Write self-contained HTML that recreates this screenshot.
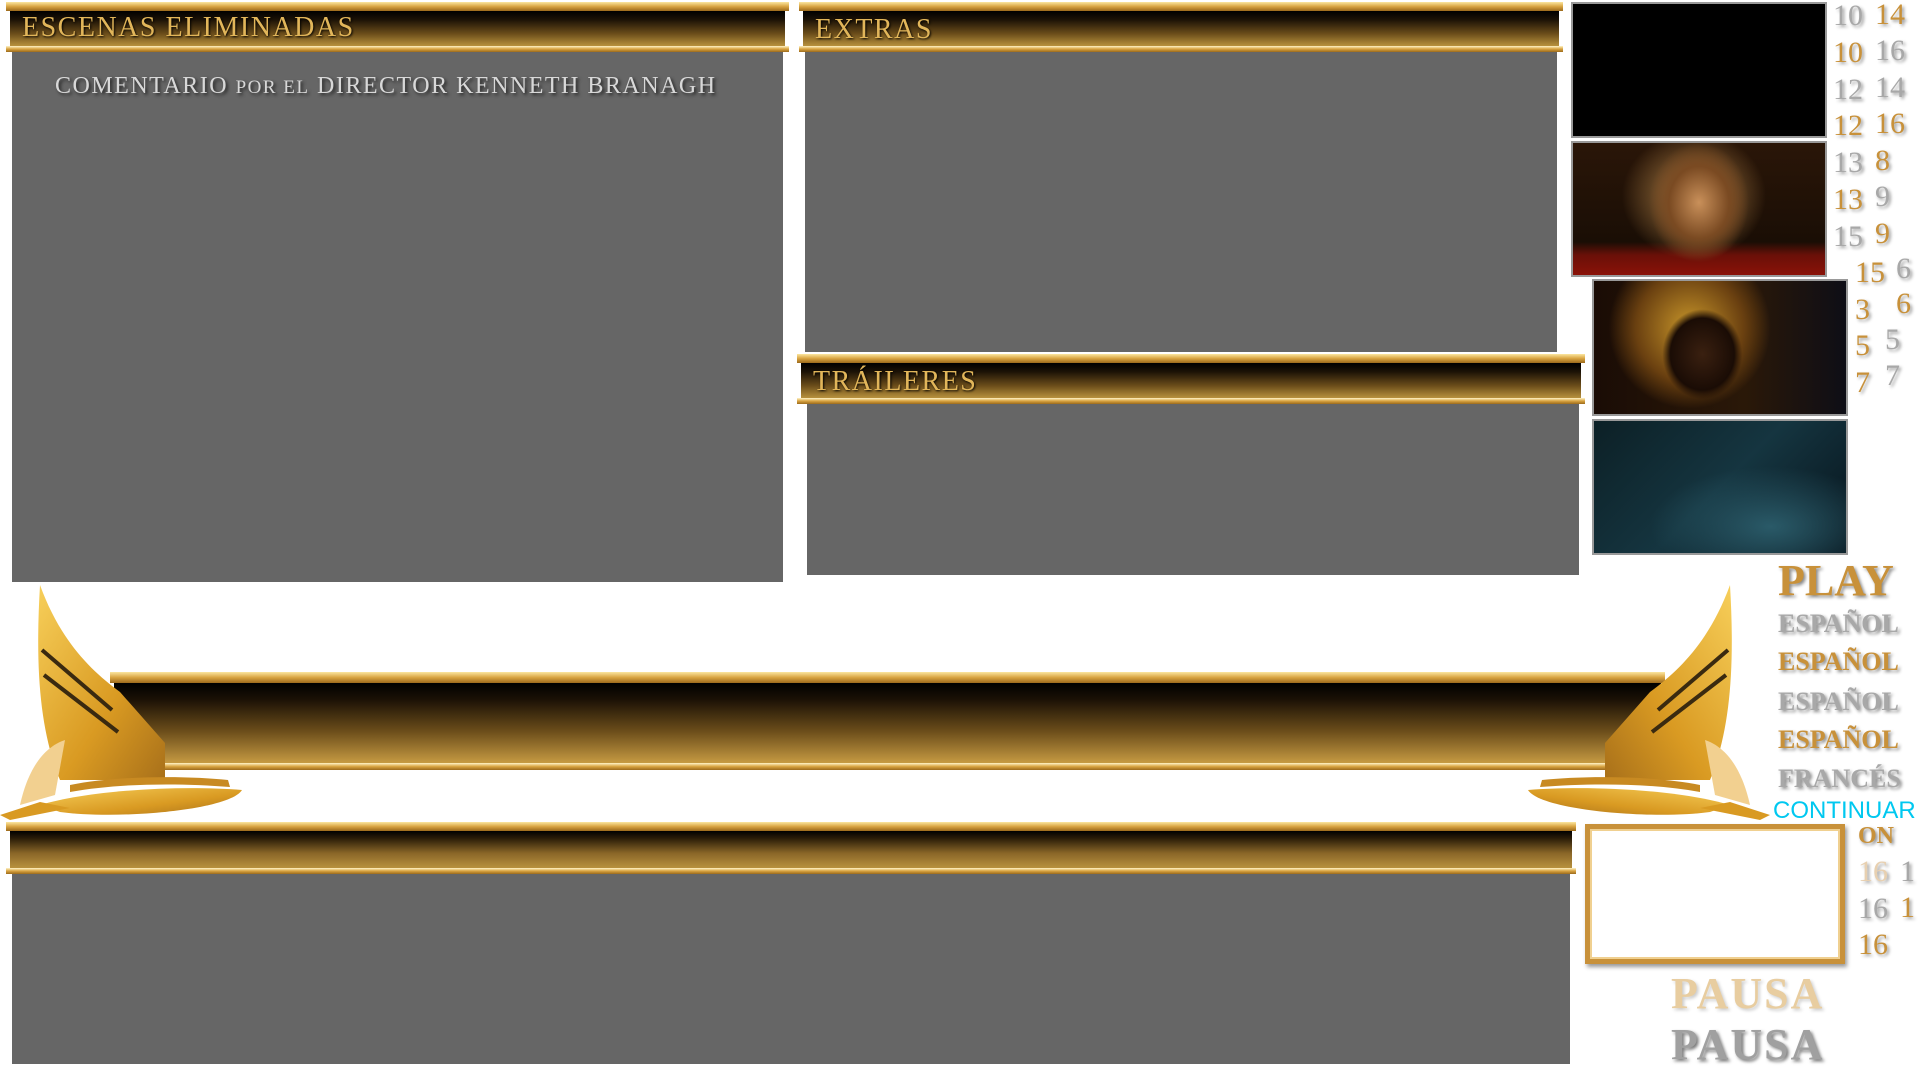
<!DOCTYPE html>
<html><head><meta charset="utf-8"><style>
*{margin:0;padding:0;box-sizing:border-box}
body{width:1919px;height:1071px;background:#fff;position:relative;overflow:hidden;font-family:"Liberation Serif",serif}
.a{position:absolute}
.grey{background:#666}
.hdr{position:absolute}
.hdr .t{position:absolute;left:0;right:0;top:0;height:9px;background:linear-gradient(#fbe6a0,#d9a441 50%,#9c6a1c)}
.hdr .m{position:absolute;left:4px;right:4px;top:9px;bottom:6px;background:linear-gradient(#000 0%,#1c1206 25%,#6b4d1a 65%,#b8913d 100%)}
.hdr .b{position:absolute;left:0;right:0;bottom:0;height:6px;background:linear-gradient(#fff3c8,#d9a441 50%,#9c6a1c)}
.hdr .x{position:absolute;left:16px;top:10px;font-size:28px;letter-spacing:1.5px;color:#e2b65a;text-shadow:1px 1px 2px #000}
.n{position:absolute;font-size:30px;line-height:30px;text-shadow:2px 2px 3px #999}
.g{color:#c8913a}.s{color:#a8a8a8}
.w{position:absolute;font-weight:bold;font-size:26px;letter-spacing:0px;text-shadow:2px 2px 3px #888}
</style></head><body>

<div class="hdr" style="left:6px;top:2px;width:783px;height:50px"><div class="t"></div><div class="m"></div><div class="b"></div><div class="x">ESCENAS ELIMINADAS</div></div>
<div class="a grey" style="left:12px;top:52px;width:771px;height:530px"></div>
<div class="a" style="left:55px;top:73px;font-size:24px;color:#d8d8d8;letter-spacing:1.5px;text-shadow:2px 2px 3px #222">COMENTARIO <span style="font-size:19px">POR EL</span> DIRECTOR KENNETH BRANAGH</div>

<div class="hdr" style="left:799px;top:2px;width:764px;height:50px"><div class="t"></div><div class="m"></div><div class="b"></div><div class="x" style="top:12px">EXTRAS</div></div>
<div class="a grey" style="left:805px;top:52px;width:752px;height:300px"></div>

<div class="hdr" style="left:797px;top:354px;width:788px;height:50px"><div class="t"></div><div class="m"></div><div class="b"></div><div class="x" style="top:12px">TRÁILERES</div></div>
<div class="a grey" style="left:807px;top:404px;width:772px;height:171px"></div>

<div class="hdr" style="left:110px;top:672px;width:1555px;height:98px"><div class="t" style="height:11px"></div><div class="m" style="top:11px;bottom:7px;background:linear-gradient(#000 0%,#1a1005 20%,#6b4d1a 60%,#c69a42 100%)"></div><div class="b" style="height:7px"></div></div>
<svg class="a" style="left:0;top:580px" width="250" height="240">
<defs><linearGradient id="gg" x1="0" y1="0" x2="1" y2="1"><stop offset="0" stop-color="#f7cf5a"/><stop offset="0.6" stop-color="#d99a22"/><stop offset="1" stop-color="#a8701a"/></linearGradient></defs>
<path d="M40 5 C60 60 90 90 120 112 L165 163 L165 200 L60 200 C40 150 35 90 40 5Z" fill="url(#gg)"/>
<path d="M42 70 L112 130 M44 95 L118 152" stroke="#3a2a10" stroke-width="4"/>
<path d="M40 225 C90 210 180 205 242 210 C230 230 120 240 60 232 Z" fill="url(#gg)"/>
<path d="M70 205 C120 195 190 196 228 200 L230 207 C180 203 120 203 70 212Z" fill="#c88a22"/>
<path d="M0 235 L40 222 L70 228 L10 240Z" fill="#d99a22"/>
<path d="M20 225 C30 180 50 165 65 160 L55 215Z" fill="#f2d090"/>
</svg>
<svg class="a" style="left:1520px;top:580px;transform:scaleX(-1)" width="250" height="240">
<defs><linearGradient id="gh" x1="0" y1="0" x2="1" y2="1"><stop offset="0" stop-color="#f7cf5a"/><stop offset="0.6" stop-color="#d99a22"/><stop offset="1" stop-color="#a8701a"/></linearGradient></defs>
<path d="M40 5 C60 60 90 90 120 112 L165 163 L165 200 L60 200 C40 150 35 90 40 5Z" fill="url(#gh)"/>
<path d="M42 70 L112 130 M44 95 L118 152" stroke="#3a2a10" stroke-width="4"/>
<path d="M40 225 C90 210 180 205 242 210 C230 230 120 240 60 232 Z" fill="url(#gh)"/>
<path d="M70 205 C120 195 190 196 228 200 L230 207 C180 203 120 203 70 212Z" fill="#c88a22"/>
<path d="M0 235 L40 222 L70 228 L10 240Z" fill="#d99a22"/>
<path d="M20 225 C30 180 50 165 65 160 L55 215Z" fill="#f2d090"/>
</svg>

<div class="hdr" style="left:6px;top:822px;width:1570px;height:52px"><div class="t"></div><div class="m" style="background:linear-gradient(#000 0%,#2a1c08 20%,#8a6628 60%,#b8913d 100%)"></div><div class="b"></div></div>
<div class="a grey" style="left:12px;top:874px;width:1558px;height:190px"></div>

<div class="a" style="left:1571px;top:2px;width:256px;height:136px;background:#000;border:2px solid #999"></div>
<div class="a" style="left:1571px;top:141px;width:256px;height:136px;border:2px solid #999;background:radial-gradient(ellipse 50px 60px at 50% 45%,#c9905a,#7a4a22 60%,transparent 100%),radial-gradient(ellipse 90px 80px at 48% 40%,#b7874a,transparent 80%),linear-gradient(#2a1608 0%,#1a0e05 75%,#6a1008 85%,#8a1208 100%)"></div>
<div class="a" style="left:1592px;top:279px;width:256px;height:137px;border:2px solid #999;background:radial-gradient(ellipse 40px 45px at 43% 55%,#3a2010,#1a0c05 80%,transparent),radial-gradient(ellipse 90px 90px at 38% 35%,#c8962a,#6a4010 60%,transparent 90%),linear-gradient(90deg,#1a0c05,#2a1808 60%,#0e0e16)"></div>
<div class="a" style="left:1592px;top:419px;width:256px;height:136px;border:2px solid #999;background:radial-gradient(ellipse 120px 60px at 70% 80%,#2a5a68,transparent),linear-gradient(135deg,#0c2026,#153540 50%,#06121a)"></div>

<div class="n s" style="left:1833px;top:1px">10</div><div class="n g" style="left:1875px;top:0px">14</div>
<div class="n g" style="left:1833px;top:38px">10</div><div class="n s" style="left:1875px;top:36px">16</div>
<div class="n s" style="left:1833px;top:75px">12</div><div class="n s" style="left:1875px;top:73px">14</div>
<div class="n g" style="left:1833px;top:111px">12</div><div class="n g" style="left:1875px;top:109px">16</div>
<div class="n s" style="left:1833px;top:148px">13</div><div class="n g" style="left:1875px;top:146px">8</div>
<div class="n g" style="left:1833px;top:185px">13</div><div class="n s" style="left:1875px;top:182px">9</div>
<div class="n s" style="left:1833px;top:222px">15</div><div class="n g" style="left:1875px;top:219px">9</div>
<div class="n g" style="left:1855px;top:258px">15</div><div class="n s" style="left:1896px;top:254px">6</div>
<div class="n g" style="left:1855px;top:295px">3</div><div class="n g" style="left:1896px;top:289px">6</div>
<div class="n g" style="left:1855px;top:331px">5</div><div class="n s" style="left:1885px;top:325px">5</div>
<div class="n g" style="left:1855px;top:368px">7</div><div class="n s" style="left:1885px;top:361px">7</div>

<div class="a" style="left:1778px;top:555px;font-size:44px;font-weight:bold;color:#c8913a;text-shadow:2px 2px 3px #888">PLAY</div>
<div class="w s" style="left:1778px;top:609px">ESPAÑOL</div>
<div class="w g" style="left:1778px;top:647px">ESPAÑOL</div>
<div class="w s" style="left:1778px;top:687px">ESPAÑOL</div>
<div class="w g" style="left:1778px;top:725px">ESPAÑOL</div>
<div class="w s" style="left:1778px;top:764px">FRANCÉS</div>
<div class="a" style="left:1773px;top:797px;font-family:'Liberation Sans',sans-serif;font-size:24px;color:#00c8f0">CONTINUAR</div>
<div class="w g" style="left:1858px;top:823px;font-size:24px">ON</div>
<div class="a" style="left:1585px;top:824px;width:260px;height:140px;border:5px solid #c8913a;box-shadow:2px 3px 4px #999, inset 0 0 0 2px #f0d090;background:#fff"></div>
<div class="n" style="left:1858px;top:857px;color:#e8d0b0">16</div><div class="n s" style="left:1900px;top:857px">1</div>
<div class="n s" style="left:1858px;top:894px">16</div><div class="n g" style="left:1900px;top:893px">1</div>
<div class="n g" style="left:1858px;top:930px">16</div>
<div class="a" style="left:1671px;top:968px;font-size:44px;font-weight:bold;color:#e8cda0;letter-spacing:2px;text-shadow:2px 2px 3px #ccc">PAUSA</div>
<div class="a" style="left:1671px;top:1019px;font-size:44px;font-weight:bold;color:#a0a0a0;letter-spacing:2px;text-shadow:2px 2px 3px #777">PAUSA</div>
</body></html>
